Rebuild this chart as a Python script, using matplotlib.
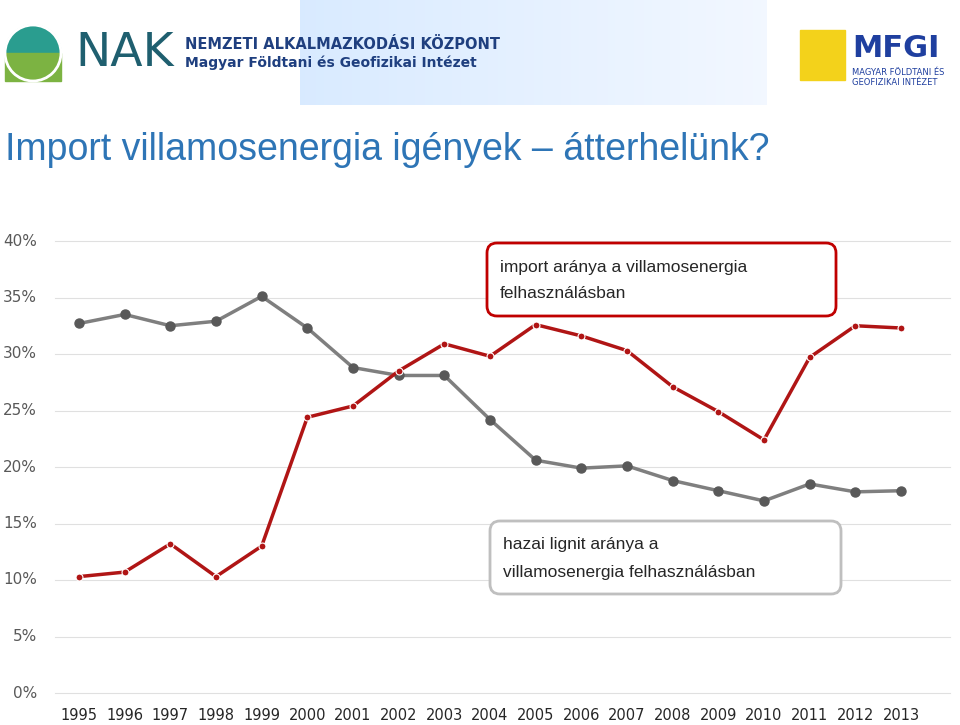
import numpy as np
import matplotlib.pyplot as plt
from matplotlib.patches import FancyBboxPatch, Circle, Rectangle

years = list(range(1995, 2014))
import_share = [10.3, 10.7, 13.2, 10.3, 13.0, 24.4, 25.4, 28.5, 30.9, 29.8,
                32.6, 31.6, 30.3, 27.1, 24.9, 22.4, 29.7, 32.5, 32.3]
lignite_share = [32.7, 33.5, 32.5, 32.9, 35.1, 32.3, 28.8, 28.1, 28.1, 24.2,
                 20.6, 19.9, 20.1, 18.8, 17.9, 17.0, 18.5, 17.8, 17.9]
y_ticks = [0, 5, 10, 15, 20, 25, 30, 35, 40]

W, H = 960, 725
fig = plt.figure(figsize=(W / 100, H / 100), dpi=100)
fig.patch.set_facecolor("white")

# header band
hdr = fig.add_axes([0, 0, 1, 1])
hdr.set_xlim(0, W)
hdr.set_ylim(H, 0)
hdr.axis("off")
grad = np.linspace(0, 1, 200).reshape(1, -1)
hdr.imshow(np.dstack([0.85 + 0.1 * grad, 0.92 + 0.05 * grad, np.ones_like(grad)]),
           extent=[300, 767, 105, 0], aspect="auto")
hdr.add_patch(Circle((33, 53), 28, color="#2a9d8f"))
hdr.add_patch(Rectangle((5, 53), 56, 28, color="#7cb342", zorder=2))
hdr.add_patch(Circle((33, 53), 28, fill=False, ec="white", lw=2, zorder=3))
hdr.text(75, 53, "NAK", fontsize=34, color="#1f5f6f", va="center")
hdr.text(185, 44, "NEMZETI ALKALMAZKODÁSI KÖZPONT", fontsize=10.5, color="#1f3f7f",
         va="center", fontweight="bold")
hdr.text(185, 63, "Magyar Földtani és Geofizikai Intézet", fontsize=10, color="#1f3f7f",
         va="center", fontweight="bold")
hdr.add_patch(Rectangle((800, 30), 45, 50, color="#f3d21b"))
hdr.text(852, 48, "MFGI", fontsize=22, color="#1f3f9f", fontweight="bold", va="center")
hdr.text(852, 72, "MAGYAR FÖLDTANI ÉS", fontsize=6, color="#1f3f9f", va="center")
hdr.text(852, 82, "GEOFIZIKAI INTÉZET", fontsize=6, color="#1f3f9f", va="center")
hdr.text(5, 150, "Import villamosenergia igények – átterhelünk?", fontsize=27,
         color="#2e75b6", va="center", family="Liberation Sans")

# chart: 0% at y=693, 40% at y=241; x 1995 at 79, 2013 at 901
ax = fig.add_axes([0, 0, 1, 1], facecolor="none")
sx = (901 - 79) / 18
x0 = 1995 - 79 / sx
ax.set_xlim(x0, 1995 + (W - 79) / sx)
sy = (693 - 241) / 40
ax.set_ylim(-(H - 693) / sy, 693 / sy)
ax.axis("off")
for t in y_ticks:
    ax.plot([x0 + 55 / sx, x0 + 950 / sx], [t, t], color="#e0e0e0", lw=0.8, zorder=1)
    ax.text(x0 + 37 / sx, t, f"{t}%", ha="right", va="center",
            fontsize=11, color="#595959")
for yr in years:
    ax.text(yr, -2.0, str(yr), ha="center", va="center", fontsize=10.5, color="#262626")

ax.plot(years, lignite_share, color="#7f7f7f", lw=2.5, marker="o", ms=6.5,
        mfc="#595959", mec="#595959", zorder=3)
ax.plot(years, import_share, color="#b01515", lw=2.5, marker="o", ms=5,
        mfc="#b01515", mec="white", mew=0.8, zorder=4)

# callout boxes
hdr.set_zorder(0)
ax.set_zorder(1)
box_ax = fig.add_axes([0, 0, 1, 1], facecolor="none")
box_ax.set_zorder(2)
box_ax.set_xlim(0, W)
box_ax.set_ylim(H, 0)
box_ax.axis("off")
box_ax.add_patch(FancyBboxPatch((487, 243), 349, 73, boxstyle="round,pad=0,rounding_size=10",
                                fc="white", ec="#c00000", lw=2))
box_ax.text(500, 267, "import aránya a villamosenergia", fontsize=12.5, color="#262626",
            va="center", family="Liberation Sans")
box_ax.text(500, 293, "felhasználásban", fontsize=12.5, color="#262626",
            va="center", family="Liberation Sans")
box_ax.add_patch(FancyBboxPatch((490, 521), 351, 73, boxstyle="round,pad=0,rounding_size=10",
                                fc="white", ec="#bfbfbf", lw=2))
box_ax.text(503, 545, "hazai lignit aránya a", fontsize=12.5, color="#262626",
            va="center", family="Liberation Sans")
box_ax.text(503, 572, "villamosenergia felhasználásban", fontsize=12.5, color="#262626",
            va="center", family="Liberation Sans")

fig.savefig("out.png", dpi=100)
